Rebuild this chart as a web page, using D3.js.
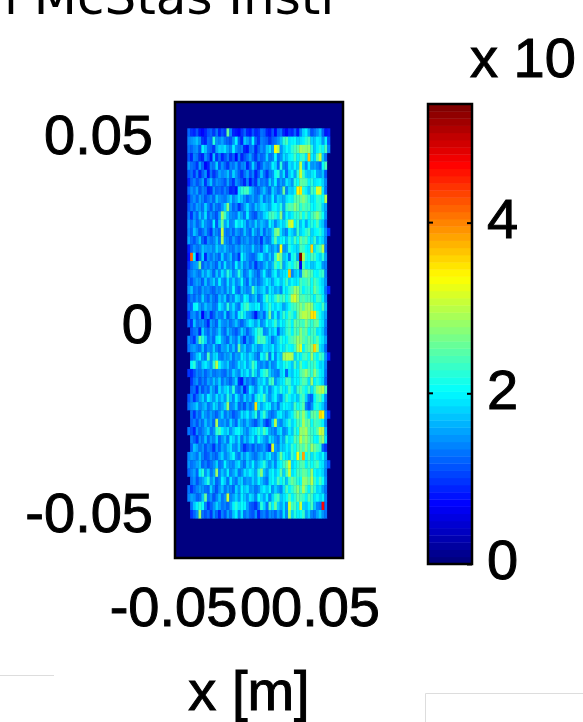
<!DOCTYPE html>
<html>
<head>
<meta charset="utf-8">
<script src="https://cdn.jsdelivr.net/npm/d3@7"></script>
<style>
  html, body { margin: 0; padding: 0; background: #fff; overflow: hidden; }
  text { font-family: "Liberation Sans", sans-serif; fill: #000; }
</style>
</head>
<body>
<script>
let w = 583;
let h = 722;

let xTicks = [-0.05, 0, 0.05];
let yTicks = [-0.05, 0, 0.05];
let barTicks = [0, 2, 4];
let barMax = 5.39;

let counts = [
[12,10,9,11,8,7,9,11,12,10,13,9,11,10,26,14,9,8,7,10,12,9,8,11,9,10,13,12,9,8,11,7,12,13,9,7,10,9,12,8,14,18,20,16,11,13,15,17,12,8,9],
[14,15,16,17,15,10,9,13,12,22,15,14,16,13,12,11,15,20,12,9,17,16,13,20,12,10,14,13,12,10,12,13,15,17,22,24,19,20,21,18,19,20,22,24,18,17,20,19,15,20,11],
[13,12,14,15,11,20,17,13,12,10,16,18,17,19,16,14,20,15,13,14,9,8,13,14,9,12,15,13,17,19,16,33,30,15,18,21,19,22,24,25,29,28,27,28,22,17,20,22,20,24,14],
[11,9,14,13,10,9,15,12,8,17,10,13,9,11,14,10,12,7,14,9,11,13,16,12,10,14,12,13,18,13,14,21,13,15,19,17,20,21,24,20,22,23,19,37,20,18,25,31,17,13,0],
[15,13,12,10,16,12,7,9,14,13,18,11,15,12,10,14,13,16,11,14,15,9,12,18,13,10,12,16,14,15,20,18,12,22,14,13,19,17,21,18,30,18,14,20,15,16,14,12,21,24,0],
[11,13,10,14,9,12,15,8,13,10,12,16,14,15,17,13,18,15,12,10,13,16,11,14,9,12,17,13,10,14,15,21,22,15,19,12,17,20,16,22,31,23,18,17,19,21,16,15,17,11,0],
[9,12,14,11,13,16,10,14,17,12,15,14,13,11,16,12,10,15,13,11,9,14,8,12,10,16,13,14,12,18,15,20,13,16,14,19,17,15,22,21,26,25,24,20,22,19,20,21,18,14,0],
[12,15,13,16,11,14,13,9,10,15,12,13,11,14,12,9,10,8,19,22,23,24,18,16,13,12,15,17,14,12,18,16,13,15,26,14,18,17,20,34,35,22,20,17,24,22,32,32,19,13,0],
[10,13,15,12,16,14,11,13,15,12,17,15,14,13,16,18,14,16,19,17,15,12,14,16,13,15,18,13,16,15,20,14,18,17,16,19,21,20,24,25,26,27,25,22,19,20,23,22,21,30,0],
[11,14,12,16,15,13,18,14,11,16,13,12,15,18,27,16,12,14,10,13,16,19,15,13,17,16,18,19,17,16,20,21,18,22,16,23,25,24,27,26,22,25,23,24,21,20,22,23,18,16,0],
[13,10,15,12,17,14,19,12,15,13,11,16,28,23,17,15,14,13,18,16,13,20,14,12,11,16,15,18,20,23,24,22,19,27,16,21,18,20,23,22,25,21,24,20,23,25,27,24,21,15,0],
[15,13,16,12,14,18,15,13,12,20,11,17,26,16,19,14,15,21,18,20,17,13,16,14,18,15,17,16,14,21,18,14,17,20,18,22,30,32,20,23,17,21,16,20,22,21,24,19,17,12,0],
[14,12,17,15,11,13,16,12,10,16,14,12,31,14,13,15,12,16,14,13,17,14,12,18,15,13,17,12,16,15,18,26,27,19,16,14,20,18,16,23,18,20,22,24,18,20,21,22,19,15,10],
[16,13,11,14,17,12,10,15,13,14,17,13,29,15,14,12,16,13,11,15,14,16,13,15,12,14,10,16,13,14,19,25,18,20,21,17,22,19,24,21,26,23,25,21,19,23,17,20,18,14,0],
[9,12,15,13,14,17,16,15,16,14,18,16,15,17,15,14,13,16,14,17,16,15,14,18,14,15,12,17,20,16,15,17,14,33,15,16,22,20,19,18,24,23,21,20,36,19,22,24,30,13,0],
[8,42,20,7,12,18,9,15,13,16,14,12,18,13,15,17,12,14,10,21,17,15,13,12,14,18,20,16,14,18,15,22,30,26,17,19,13,21,22,16,54,30,22,21,24,23,20,18,22,16,0],
[10,13,15,16,26,12,15,13,16,14,12,17,13,19,14,16,13,20,15,18,14,16,12,15,10,14,13,16,18,15,17,24,21,25,16,19,22,20,23,25,6,24,19,20,17,18,21,20,15,14,0],
[12,14,16,14,13,17,15,18,16,12,17,14,19,16,22,18,14,16,22,17,13,15,19,16,14,12,16,20,15,14,18,21,16,18,19,20,37,14,17,19,15,26,27,25,24,21,20,22,23,14,0],
[13,11,14,16,15,12,17,13,16,18,14,20,15,13,19,15,18,14,16,21,15,12,18,14,16,13,15,17,20,18,16,19,21,17,20,23,18,21,19,20,24,22,23,25,21,24,22,20,18,15,0],
[15,17,13,14,12,16,14,15,13,12,15,14,16,13,17,15,21,14,12,17,16,14,15,24,18,16,17,19,15,20,18,16,17,14,21,19,22,24,28,27,24,20,22,23,21,26,23,21,19,13,9],
[11,14,12,15,13,18,14,12,16,13,12,17,15,18,12,16,14,19,17,15,21,19,14,16,18,13,15,20,24,21,19,22,26,22,24,21,23,30,32,28,24,25,23,24,22,20,24,23,20,15,0],
[13,12,20,21,16,14,17,15,16,13,14,20,17,15,22,16,19,15,13,20,22,24,19,18,20,21,15,18,20,23,20,18,21,19,16,18,21,23,24,26,27,25,28,29,27,22,21,20,24,17,0],
[10,14,15,12,16,7,13,15,10,12,16,14,13,18,11,15,17,13,20,22,19,16,15,12,8,14,16,12,18,26,16,21,15,19,23,20,24,22,19,25,28,30,30,28,35,35,24,21,18,16,0],
[12,10,17,13,14,15,12,9,16,14,12,18,15,14,16,13,15,17,14,12,15,17,20,18,16,19,14,16,21,18,20,23,17,21,19,22,24,20,26,25,24,23,27,24,22,25,26,21,19,14,0],
[0,11,13,14,9,18,14,12,16,13,15,18,14,12,17,15,13,11,14,18,16,12,15,17,21,23,22,14,15,19,17,20,12,17,18,22,24,20,25,23,27,24,26,21,23,24,19,20,17,13,0],
[14,12,10,16,25,22,18,13,15,12,19,21,16,14,12,17,15,13,18,14,10,16,13,15,21,25,23,24,19,17,13,16,18,22,21,20,23,24,26,28,27,25,23,26,24,22,25,21,19,16,0],
[13,15,16,14,13,17,12,15,14,18,14,12,16,15,18,14,17,13,25,16,18,14,15,19,17,15,16,19,18,17,20,16,18,21,19,22,21,20,23,29,32,20,24,26,27,36,28,19,17,12,0],
[0,12,14,17,20,15,13,24,15,18,19,14,13,16,15,17,13,16,15,20,18,16,19,17,15,13,21,18,24,13,21,14,19,17,28,30,30,29,18,22,20,23,24,21,28,22,20,24,22,15,9],
[0,20,22,16,14,18,20,17,15,22,30,21,17,16,18,14,13,15,19,17,20,16,18,24,21,15,14,16,13,17,14,15,20,18,21,22,20,17,24,19,25,21,20,23,22,24,21,18,19,14,0],
[10,9,11,14,13,15,12,14,16,13,14,15,13,12,16,14,18,16,14,19,17,20,16,22,18,15,20,22,24,18,16,14,13,18,20,12,19,17,21,20,24,26,28,25,22,27,23,20,19,13,0],
[0,10,13,15,11,14,12,16,14,17,15,18,13,16,14,12,15,18,10,8,16,13,15,12,14,18,17,20,16,22,24,15,17,19,20,24,23,18,21,20,22,25,24,19,28,20,22,20,18,12,0],
[0,12,13,9,15,11,14,12,17,15,12,19,16,18,20,16,22,14,12,16,9,13,20,17,14,18,21,16,19,14,17,21,18,22,20,19,24,21,17,23,25,22,20,24,19,23,27,29,30,24,0],
[11,14,10,13,16,18,14,20,17,15,19,16,18,15,22,17,14,20,16,13,18,15,17,13,19,22,20,24,17,15,18,21,16,14,19,23,21,18,20,17,22,24,18,13,12,20,23,25,21,14,0],
[13,15,16,18,14,16,17,13,15,19,17,14,16,18,28,14,15,18,12,14,11,16,13,15,35,19,16,18,21,20,15,17,13,18,21,20,19,17,24,21,22,25,14,11,15,21,22,20,17,13,0],
[0,13,10,14,12,17,15,13,16,14,12,15,18,13,16,14,11,13,15,19,17,20,16,18,22,14,19,23,17,14,13,15,19,20,17,16,18,20,24,27,24,28,23,19,25,26,23,36,34,15,10],
[0,12,14,11,15,13,17,14,16,12,29,15,14,16,13,18,15,12,18,16,14,17,15,13,11,15,17,13,10,12,18,30,16,14,17,19,22,18,21,24,23,29,25,26,21,24,23,22,20,14,0],
[13,11,9,15,12,14,16,18,13,15,22,24,20,17,19,15,17,20,21,18,16,14,17,19,20,22,19,24,21,16,15,13,17,19,14,16,20,17,23,21,28,27,29,24,23,22,25,31,30,17,0],
[0,14,12,10,15,13,17,12,16,14,18,12,15,17,13,20,18,15,19,13,17,15,18,20,15,21,18,16,14,19,17,15,13,18,16,22,19,20,25,23,30,26,28,25,24,21,20,26,28,19,0],
[0,12,17,16,13,15,11,14,13,10,15,12,16,14,17,19,15,14,18,13,10,12,14,11,15,13,14,16,12,10,32,16,14,18,17,20,18,23,21,24,26,24,27,23,28,26,24,22,12,10,0],
[14,16,15,13,17,14,11,12,15,13,12,16,18,14,16,18,21,15,13,17,15,18,16,14,13,16,17,15,18,20,16,14,18,26,21,19,17,23,20,33,24,38,21,24,19,22,20,18,21,16,0],
[15,13,14,16,17,12,14,11,13,15,18,13,14,20,16,15,14,17,19,15,13,18,16,20,15,17,19,22,17,15,18,14,19,21,23,26,32,18,20,22,24,25,20,23,21,22,24,20,19,15,11],
[12,14,16,12,20,22,15,18,13,16,28,14,17,15,20,14,16,18,13,15,19,17,20,18,16,22,27,17,15,19,21,17,20,25,18,24,31,19,21,24,23,26,25,22,28,21,19,20,18,14,0],
[0,13,15,11,14,16,18,22,15,17,12,14,20,17,13,19,15,13,17,18,14,16,15,18,16,20,17,15,13,19,21,18,24,20,22,17,23,26,24,22,21,28,27,25,30,23,20,24,21,15,0],
[13,10,12,14,16,15,13,12,18,14,11,15,17,13,16,14,12,18,15,20,17,19,15,16,13,15,18,20,17,21,15,18,16,14,19,24,20,22,25,27,23,29,24,20,26,22,18,19,16,13,0],
[14,16,15,12,13,17,26,13,15,11,14,17,13,15,31,14,16,18,15,20,17,15,19,17,14,21,18,16,20,14,18,22,24,17,19,21,25,20,22,26,24,23,20,25,23,19,21,18,20,14,0],
[0,13,17,20,22,21,14,10,12,15,18,16,13,14,12,16,20,22,19,21,20,16,12,11,10,14,22,18,13,24,20,26,18,16,19,15,32,23,24,20,31,18,17,20,24,17,14,13,47,13,0],
[0,10,12,15,28,13,11,13,10,15,12,9,14,11,16,13,17,20,14,19,13,15,12,11,15,9,13,14,11,15,14,12,16,13,19,14,28,18,22,20,21,23,16,18,14,13,16,18,15,13,0]
];
</script>
<script>
let svg = d3.select("body").append("svg").attr("width", w).attr("height", h)
  .style("display", "block");

let jet = d3.scaleLinear()
  .domain([0, 0.125, 0.375, 0.625, 0.875, 1])
  .range(["#000080", "#0000ff", "#00ffff", "#ffff00", "#ff0000", "#800000"]);
let steps = d3.range(64);
let color = v => jet(Math.min(63, Math.floor((v / barMax) * 64)) / 63);

let bold = sel => sel.style("font-size", "56px")
  .style("font-family", '"Liberation Sans", sans-serif')
  .style("stroke", "#000")
  .style("stroke-width", "1px");

// plot frame
let frame = { left: 175, right: 343, top: 102, bottom: 558 };
let image = svg.append("g").style("filter", "blur(0.6px)");
let chart = svg.append("g").style("filter", "blur(0.5px)");

image.append("rect")
  .attr("x", frame.left)
  .attr("y", frame.top)
  .attr("width", frame.right - frame.left)
  .attr("height", frame.bottom - frame.top)
  .attr("fill", color(0));

let xCell = d3.scaleBand().domain(d3.range(counts[0].length)).range([187.3, 330]);
let yCell = d3.scaleBand().domain(d3.range(counts.length)).range([128.3, 518.3]);

counts.forEach((row, r) => {
  image.append("g")
    .selectAll("rect")
    .data(row)
    .enter()
    .append("rect")
    .attr("x", (d, i) => xCell(i))
    .attr("y", yCell(r))
    .attr("width", xCell.bandwidth() + 0.3)
    .attr("height", yCell.bandwidth() + 0.3)
    .attr("fill", d => color(d / 10));
});

chart.append("rect")
  .attr("x", frame.left)
  .attr("y", frame.top)
  .attr("width", frame.right - frame.left)
  .attr("height", frame.bottom - frame.top)
  .attr("fill", "none")
  .attr("stroke", "#000")
  .attr("stroke-width", 2.5);

// axes
let x = d3.scaleLinear().domain([-0.05, 0.05]).range([173, 337]);
let y = d3.scaleLinear().domain([-0.05, 0.05]).range([514, 136]);

let xAxis = chart.append("g")
  .attr("transform", "translate(0,586)")
  .call(d3.axisBottom(x).tickValues(xTicks).tickSize(0).tickFormat(d => d));
xAxis.select(".domain").remove();
xAxis.selectAll("text").attr("dy", "0.71em").attr("y", 0)
  .attr("dx", d => (d > 0 ? -12 : 0))
  .call(bold);

let yAxis = chart.append("g")
  .attr("transform", "translate(153,0)")
  .call(d3.axisLeft(y).tickValues(yTicks).tickSize(0).tickFormat(d => d));
yAxis.select(".domain").remove();
yAxis.selectAll("text").attr("x", 0).call(bold);

chart.append("text")
  .attr("x", 249)
  .attr("y", 710)
  .attr("text-anchor", "middle")
  .call(bold)
  .text("x [m]");

// colour bar
let bar = d3.scaleLinear().domain([0, barMax]).range([564, 104]);
let barBand = d3.scaleBand().domain(steps).range([564, 104]);

chart.append("g")
  .selectAll("rect")
  .data(steps)
  .enter()
  .append("rect")
  .attr("x", 428)
  .attr("y", d => barBand(d))
  .attr("width", 44)
  .attr("height", barBand.bandwidth() + 0.4)
  .attr("fill", d => jet(d / 63));

chart.append("rect")
  .attr("x", 428)
  .attr("y", 104)
  .attr("width", 44)
  .attr("height", 460)
  .attr("fill", "none")
  .attr("stroke", "#000")
  .attr("stroke-width", 2.5);

let barAxis = chart.append("g")
  .attr("transform", "translate(472,0)")
  .call(d3.axisRight(bar).tickValues(barTicks).tickSize(-5).tickPadding(15).tickFormat(d => d));
barAxis.select(".domain").remove();
barAxis.selectAll("line").attr("stroke", "#000").attr("stroke-width", 2);
barAxis.selectAll("text").attr("y", -3).call(bold);

chart.append("g")
  .selectAll("line")
  .data(barTicks)
  .enter()
  .append("line")
  .attr("x1", 428)
  .attr("x2", 433)
  .attr("y1", d => bar(d))
  .attr("y2", d => bar(d))
  .attr("stroke", "#000")
  .attr("stroke-width", 2);

chart.append("text")
  .attr("x", 470)
  .attr("y", 77)
  .call(bold)
  .text("x 10");

// title is cropped by the top edge of the image
svg.append("text")
  .attr("x", 4)
  .attr("y", 14)
  .style("font-family", '"DejaVu Sans", sans-serif')
  .style("font-size", "50px")
  .text("l McStas Instr");

// thin panel edges at the bottom of the image
svg.append("path")
  .attr("d", "M0,675.5H54 M425.5,722V693.5H583")
  .attr("fill", "none")
  .attr("stroke", "#ddd")
  .attr("stroke-width", 1);
</script>
</body>
</html>
